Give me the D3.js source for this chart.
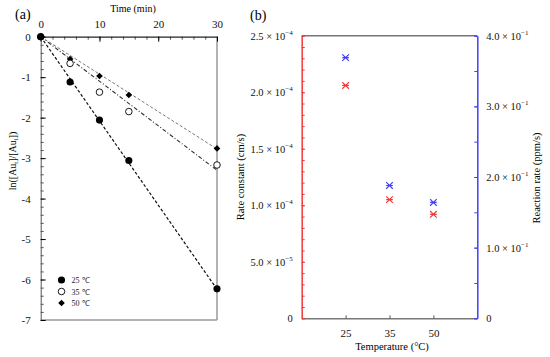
<!DOCTYPE html>
<html>
<head>
<meta charset="utf-8">
<script src="https://cdn.jsdelivr.net/npm/d3@7"></script>
<style>
  body { margin: 0; background: #fff; }
  svg, svg text { font-family: "Liberation Serif", "Times New Roman", serif; }
</style>
</head>
<body>
<div id="vis"></div>
<script>
// data, panel (a)
const TIMES = [0, 5, 10, 15, 30];
const LN_25 = [0, -1.12, -2.06, -3.06, -6.23];
const LN_35 = [0, -0.66, -1.37, -1.85, -3.17];
const LN_50 = [0, -0.55, -0.97, -1.44, -2.76];
const SLOPES = [-0.208, -0.110, -0.0925];   // fitted lines through origin
const SERIES_NAMES = ["25 \u2103", "35 \u2103", "50 \u2103"];
const X_TICKS_A = [0, 10, 20, 30];
const Y_TICKS_A = [0, -1, -2, -3, -4, -5, -6, -7];

// data, panel (b)
const TEMPS = ["25", "35", "50"];
const RATE_CONST = [2.06e-4, 1.05e-4, 0.92e-4];
const REACT_RATE = [0.369, 0.188, 0.164];
const LEFT_TICKS_B = [0, 0.5e-4, 1.0e-4, 1.5e-4, 2.0e-4, 2.5e-4];
const RIGHT_TICKS_B = [0, 0.1, 0.2, 0.3, 0.4];

const WIDTH = 550, HEIGHT = 357;
const FONT = "Liberation Serif, Times New Roman, serif";
const SVG = d3.select("#vis").append("svg")
    .attr("width", WIDTH)
    .attr("height", HEIGHT)
    .attr("font-family", FONT);

// axis groups from d3 carry a sans-serif font attribute, put ours back
function serif(g) {
    g.attr("font-family", FONT);
    g.selectAll("text").attr("font-family", FONT).attr("fill", "#111");
}

// ---------- panel (a) ----------
const A = {left: 40.7, right: 217, top: 36.7, bottom: 320};
const X_A = d3.scaleLinear().domain([0, 30]).range([A.left, A.right]);
const Y_A = d3.scaleLinear().domain([0, -7]).range([A.top, A.bottom]);

// gray right and bottom frame
SVG.append("line").attr("x1", A.right).attr("x2", A.right).attr("y1", A.top).attr("y2", A.bottom)
    .attr("stroke", "#9a9a9a").attr("stroke-width", 1.5);
SVG.append("line").attr("x1", A.left).attr("x2", A.right).attr("y1", A.bottom).attr("y2", A.bottom)
    .attr("stroke", "#9a9a9a").attr("stroke-width", 1.5);

// minor ticks
const gA = SVG.append("g");
gA.append("g").attr("transform", "translate(0," + A.top + ")")
    .call(d3.axisTop(X_A).tickValues(d3.range(0, 31, 2)).tickSize(-3).tickFormat(""))
    .call(g => g.select(".domain").remove())
    .selectAll("line").attr("stroke", "#555");
gA.append("g").attr("transform", "translate(" + A.left + ",0)")
    .call(d3.axisLeft(Y_A).tickValues(d3.range(0, -7.01, -0.2)).tickSize(-3).tickFormat(""))
    .call(g => g.select(".domain").remove())
    .selectAll("line").attr("stroke", "#555");

// major axes
const xAxisA = gA.append("g").attr("transform", "translate(0," + A.top + ")")
    .call(d3.axisTop(X_A).tickValues(X_TICKS_A).tickSize(-5).tickPadding(9).tickSizeOuter(0)
        .tickFormat(d => String(d)))
    .call(serif);
xAxisA.select(".domain").attr("stroke", "#222").attr("stroke-width", 1.2);
xAxisA.selectAll("text").attr("font-size", "11px");

const yAxisA = gA.append("g").attr("transform", "translate(" + A.left + ",0)")
    .call(d3.axisLeft(Y_A).tickValues(Y_TICKS_A).tickSize(-5).tickPadding(10).tickSizeOuter(0)
        .tickFormat(d => String(d)))
    .call(serif);
yAxisA.select(".domain").attr("stroke", "#555").attr("stroke-width", 1);
yAxisA.selectAll("text").attr("font-size", "11px");

// fitted lines
const LINE_STYLES = [
    {dash: "3,2", color: "#111", w: 1.2},
    {dash: "4,2,1,2", color: "#333", w: 1.1},
    {dash: "3,2", color: "#777", w: 1}
];
SLOPES.forEach((k, i) => {
    SVG.append("line")
        .attr("x1", X_A(0)).attr("y1", Y_A(0))
        .attr("x2", X_A(30)).attr("y2", Y_A(k * 30))
        .attr("stroke", LINE_STYLES[i].color)
        .attr("stroke-width", LINE_STYLES[i].w)
        .attr("stroke-dasharray", LINE_STYLES[i].dash);
});

// points
const circleSym = d3.symbol().type(d3.symbolCircle).size(40);
const openSym = d3.symbol().type(d3.symbolCircle).size(34);
const diamondSym = d3.symbol().type(d3.symbolSquare).size(22);

SVG.selectAll(".p50").data(TIMES).enter().append("path")
    .attr("transform", (d, i) => "translate(" + X_A(d) + "," + Y_A(LN_50[i]) + ") rotate(45)")
    .attr("d", diamondSym).attr("fill", "#000");
SVG.selectAll(".p35").data(TIMES).enter().append("path")
    .attr("transform", (d, i) => "translate(" + X_A(d) + "," + Y_A(LN_35[i]) + ")")
    .attr("d", openSym).attr("fill", "#fff").attr("stroke", "#000").attr("stroke-width", 0.9);
SVG.selectAll(".p25").data(TIMES).enter().append("path")
    .attr("transform", (d, i) => "translate(" + X_A(d) + "," + Y_A(LN_25[i]) + ")")
    .attr("d", circleSym).attr("fill", "#000");

// legend
const LEG = SVG.append("g").attr("transform", "translate(61.5,280)");
const legSyms = [
    {sym: circleSym, fill: "#000", stroke: "none", rot: 0},
    {sym: openSym, fill: "#fff", stroke: "#000", rot: 0},
    {sym: diamondSym, fill: "#000", stroke: "none", rot: 45}
];
SERIES_NAMES.forEach((name, i) => {
    LEG.append("path").attr("transform", "translate(0," + (i * 11.5) + ") rotate(" + legSyms[i].rot + ")")
        .attr("d", legSyms[i].sym).attr("fill", legSyms[i].fill)
        .attr("stroke", legSyms[i].stroke).attr("stroke-width", 0.9);
    LEG.append("text").attr("x", 10).attr("y", i * 11.5 + 3)
        .attr("font-size", "8px").attr("fill", "#222").text(name);
});

// titles
SVG.append("text").attr("x", 15).attr("y", 19).attr("font-size", "14px").text("(a)");
SVG.append("text").attr("x", 133).attr("y", 12).attr("text-anchor", "middle")
    .attr("font-size", "10px").text("Time (min)");
const yLab = SVG.append("text").attr("transform", "translate(16,161) rotate(-90)")
    .attr("text-anchor", "middle").attr("font-size", "10px");
yLab.append("tspan").text("ln([Au");
yLab.append("tspan").attr("font-size", "6.5px").attr("dy", 2).text("t");
yLab.append("tspan").attr("dy", -2).text("]/[Au");
yLab.append("tspan").attr("font-size", "6.5px").attr("dy", 2).text("i");
yLab.append("tspan").attr("dy", -2).text("])");

// ---------- panel (b) ----------
const B = {left: 301.7, right: 477.3, top: 35.7, bottom: 318.3};
const X_B = d3.scalePoint().domain(TEMPS).range([B.left, B.right]).padding(1);
const YL_B = d3.scaleLinear().domain([0, 2.5e-4]).range([B.bottom, B.top]);
const YR_B = d3.scaleLinear().domain([0, 0.4]).range([B.bottom, B.top]);
const RED = "#f23a3a", BLUE = "#4040f5";

// top and bottom gray lines
SVG.append("line").attr("x1", B.left).attr("x2", B.right).attr("y1", B.top).attr("y2", B.top)
    .attr("stroke", "#777").attr("stroke-width", 1.5);
const xAxisB = SVG.append("g").attr("transform", "translate(0," + B.bottom + ")")
    .call(d3.axisBottom(X_B).tickSize(-3).tickPadding(11).tickSizeOuter(0))
    .call(serif);
xAxisB.select(".domain").attr("stroke", "#777").attr("stroke-width", 1.5);
xAxisB.selectAll("line").attr("stroke", "#555");
xAxisB.selectAll("text").attr("font-size", "11px");

// superscript tick label helper
function sciLabel(sel, mant, exp) {
    sel.text(null);
    if (mant === null) { sel.text("0"); return; }
    sel.append("tspan").text(mant + " \u00d7 10");
    sel.append("tspan").attr("font-size", "7px").attr("dy", -5).text("\u2212" + exp);
}

// left red axis
SVG.append("g").attr("transform", "translate(" + B.left + ",0)")
    .call(d3.axisLeft(YL_B).tickValues(d3.range(0, 25.01, 1).map(v => v * 1e-5)).tickSize(-3).tickFormat(""))
    .call(g => g.select(".domain").remove())
    .selectAll("line").attr("stroke", RED);
const ylAxis = SVG.append("g").attr("transform", "translate(" + B.left + ",0)")
    .call(d3.axisLeft(YL_B).tickValues(LEFT_TICKS_B).tickSize(-3).tickPadding(9).tickSizeOuter(0))
    .call(serif);
ylAxis.select(".domain").attr("stroke", RED).attr("stroke-width", 1.5);
ylAxis.selectAll("line").attr("stroke", RED);
ylAxis.selectAll("text").attr("font-size", "10.5px")
    .each(function(d) {
        if (d === 0) sciLabel(d3.select(this), null);
        else if (d < 1e-4) sciLabel(d3.select(this), (d * 1e5).toFixed(1), 5);
        else sciLabel(d3.select(this), (d * 1e4).toFixed(1), 4);
    });

// right blue axis
SVG.append("g").attr("transform", "translate(" + B.right + ",0)")
    .call(d3.axisRight(YR_B).tickValues(d3.range(0, 9).map(v => v * 0.05)).tickSize(-3).tickFormat(""))
    .call(g => g.select(".domain").remove())
    .selectAll("line").attr("stroke", BLUE);
const yrAxis = SVG.append("g").attr("transform", "translate(" + B.right + ",0)")
    .call(d3.axisRight(YR_B).tickValues(RIGHT_TICKS_B).tickSize(-3).tickPadding(9).tickSizeOuter(0))
    .call(serif);
yrAxis.select(".domain").attr("stroke", BLUE).attr("stroke-width", 1.5);
yrAxis.selectAll("line").attr("stroke", BLUE);
yrAxis.selectAll("text").attr("font-size", "10.5px")
    .each(function(d) {
        if (d === 0) sciLabel(d3.select(this), null);
        else sciLabel(d3.select(this), (d * 10).toFixed(1), 1);
    });

// asterisk markers
function star(g, x, y, color) {
    const s = 3.3;
    g.append("path")
        .attr("d", "M" + (x - s) + "," + (y - s) + "L" + (x + s) + "," + (y + s) +
            "M" + (x - s) + "," + (y + s) + "L" + (x + s) + "," + (y - s) +
            "M" + (x - s) + "," + y + "L" + (x + s) + "," + y)
        .attr("stroke", color).attr("stroke-width", 1.2).attr("fill", "none");
}
const MARKS = SVG.append("g");
TEMPS.forEach((t, i) => {
    star(MARKS, X_B(t), YL_B(RATE_CONST[i]), RED);
    star(MARKS, X_B(t), YR_B(REACT_RATE[i]), BLUE);
});

// titles
SVG.append("text").attr("x", 250).attr("y", 20).attr("font-size", "14px").text("(b)");
SVG.append("text").attr("x", 392).attr("y", 350).attr("text-anchor", "middle")
    .attr("font-size", "10.5px").text("Temperature (\u00b0C)");
SVG.append("text").attr("transform", "translate(244,177) rotate(-90)")
    .attr("text-anchor", "middle").attr("font-size", "10.5px").text("Rate constant (cm/s)");
SVG.append("text").attr("transform", "translate(540,178) rotate(-90)")
    .attr("text-anchor", "middle").attr("font-size", "10.5px").text("Reaction rate (ppm/s)");
</script>
</body>
</html>
